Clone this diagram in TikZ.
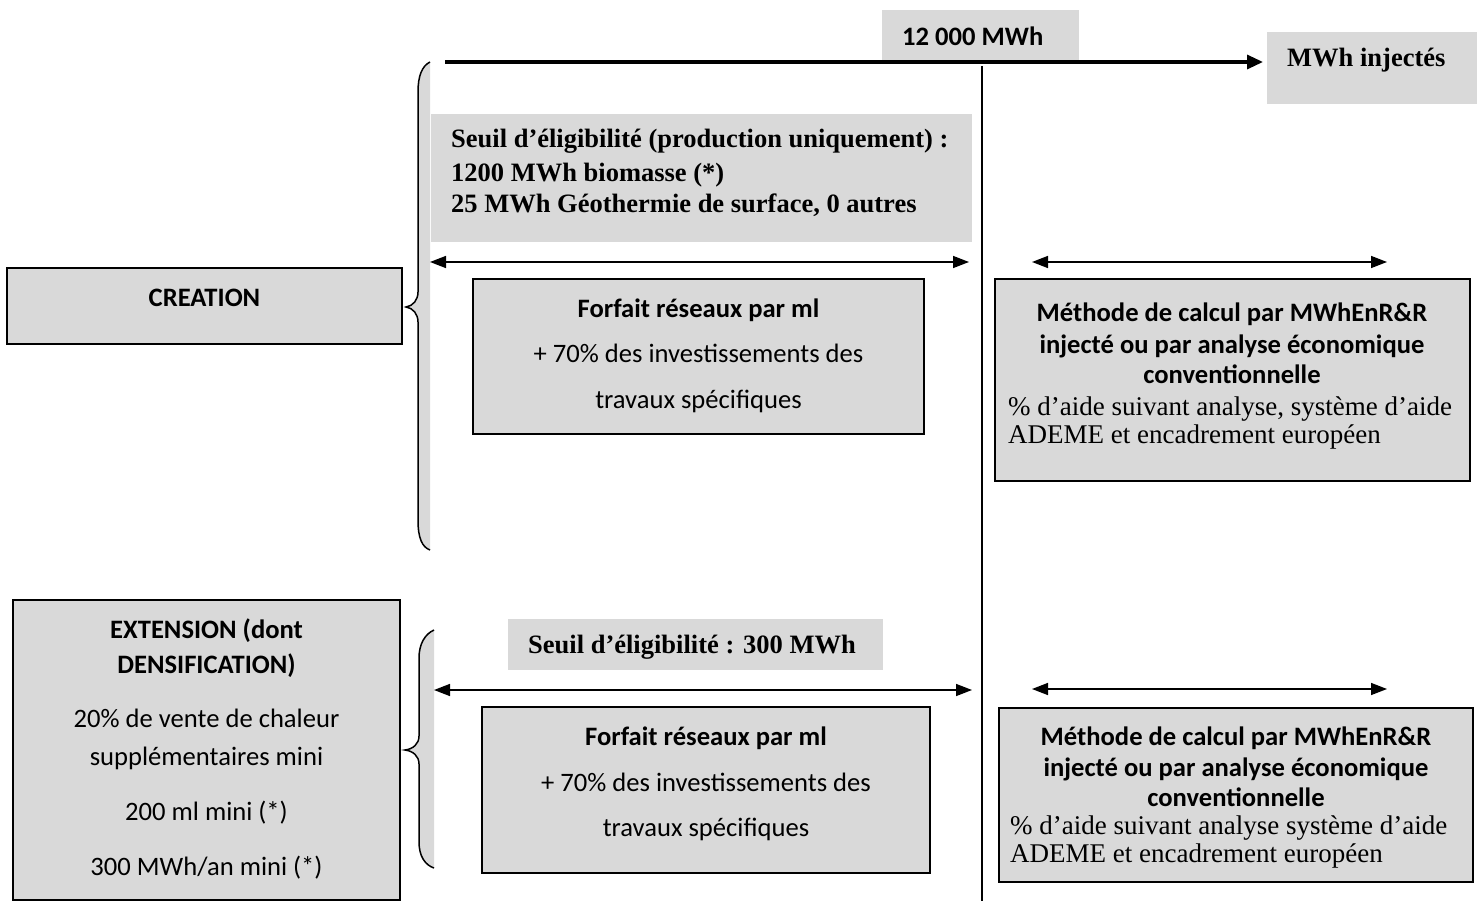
\documentclass[tikz,border=0pt]{standalone}
\usepackage{fontspec}
\setmainfont{Liberation Serif}
\newfontfamily\calfont{Carlito}
\usetikzlibrary{arrows.meta}
\definecolor{boxgray}{HTML}{D9D9D9}
\tikzset{
  gbox/.style={draw=black, line width=1.3pt, fill=boxgray, inner sep=0pt, outer sep=0pt, anchor=north west},
  pbox/.style={fill=boxgray, inner sep=0pt, outer sep=0pt, anchor=north west},
  cb/.style={font=\calfont\bfseries\fontsize{26.6}{30}\selectfont, anchor=base, inner sep=0pt},
  cr/.style={font=\calfont\fontsize{26.6}{30}\selectfont, anchor=base, inner sep=0pt},
  tb/.style={font=\bfseries\fontsize{26.5}{30}\selectfont, anchor=base west, inner sep=0pt},
  tr/.style={font=\fontsize{27}{30}\selectfont, anchor=base west, inner sep=0pt},
  darr/.style={line width=1.5pt, {Triangle[length=16pt,width=12pt]}-{Triangle[length=16pt,width=12pt]}},
  bigarr/.style={line width=3.2pt, -{Triangle[length=16pt,width=14pt]}},
  bracefill/.style={fill=boxgray, draw=none},
  bracestroke/.style={draw=black, line width=1.5pt},
  axisline/.style={draw=black, line width=1.5pt}
}
\begin{document}
\begin{tikzpicture}[x=1pt,y=-1pt]
\useasboundingbox (0,0) rectangle (1483,901);

% ---------- top axis ----------
\node[pbox, minimum width=197pt, minimum height=51pt] (b12) at (882,10) {};
\node[cb, anchor=base west] (t12) at (902,46) {12 000 MWh};
\node[pbox, minimum width=210pt, minimum height=72pt] (inj) at (1267,32) {};
\node[tb] (tinj) at (1287,67) {MWh injectés};
\coordinate (axstart) at (445,62);
\draw[bigarr, shorten >=4pt] (axstart) -- (axstart -| inj.west);

\coordinate (vtop) at (982,66);
\coordinate (vbot) at (982,901);
\draw[axisline] (vtop) -- (vbot);

% ---------- brace 1 ----------
\path[bracefill] (430,62) .. controls (422,66) and (418,76) .. (418,92) -- (418,292)
  .. controls (418,300) and (413,306) .. (406,307) .. controls (413,308) and (418,314) .. (418,322)
  -- (418,520) .. controls (418,538) and (422,547) .. (430,550) -- cycle;
\draw[bracestroke] (430,62) .. controls (422,66) and (418,76) .. (418,92) -- (418,292)
  .. controls (418,300) and (413,306) .. (406,307) .. controls (413,308) and (418,314) .. (418,322)
  -- (418,520) .. controls (418,538) and (422,547) .. (430,550);

% ---------- CREATION ----------
\node[gbox, minimum width=395pt, minimum height=76pt] (creation) at (7,268) {};
\node[cb] (tcreation) at (204.5,307) {CREATION};

\node[pbox, minimum width=541pt, minimum height=128pt] (seuil1) at (431,114) {};
\node[tb] (s1a) at (451,148) {Seuil d’éligibilité (production uniquement) :};
\node[tb] (s1b) at (451,182) {1200 MWh biomasse (*)};
\node[tb] (s1c) at (451,213) {25 MWh Géothermie de surface, 0 autres};

\coordinate (a1l) at (430,262);
\coordinate (a1r) at (969,262);
\draw[darr] (a1l) -- (a1r);
\coordinate (a2l) at (1032,262);
\coordinate (a2r) at (1387,262);
\draw[darr] (a2l) -- (a2r);

\node[gbox, minimum width=451pt, minimum height=155pt] (forf1) at (473,279) {};
\node[cb] (f1a) at (698.5,317) {Forfait réseaux par ml};
\node[cr] (f1b) at (698.5,362) {+ 70\% des investissements des};
\node[cr] (f1c) at (698.5,408) {travaux spécifiques};

\node[gbox, minimum width=475pt, minimum height=202pt] (meth1) at (995,279) {};
\node[cb] (m1a) at (1232,322) {Méthode de calcul par MWhEnR\&R};
\node[cb] (m1b) at (1232,353) {injecté ou par analyse économique};
\node[cb] (m1c) at (1232,383) {conventionnelle};
\node[tr] (m1d) at (1008,415) {\% d’aide suivant analyse, système d’aide};
\node[tr] (m1e) at (1008,443) {ADEME et encadrement européen};

% ---------- brace 2 ----------
\path[bracefill] (434,630) .. controls (425,634) and (419,644) .. (419,658) -- (419,736)
  .. controls (419,744) and (413,749) .. (405,750) .. controls (413,751) and (419,756) .. (419,764)
  -- (419,842) .. controls (419,856) and (425,865) .. (434,868) -- cycle;
\draw[bracestroke] (434,630) .. controls (425,634) and (419,644) .. (419,658) -- (419,736)
  .. controls (419,744) and (413,749) .. (405,750) .. controls (413,751) and (419,756) .. (419,764)
  -- (419,842) .. controls (419,856) and (425,865) .. (434,868);

% ---------- EXTENSION ----------
\node[gbox, minimum width=387pt, minimum height=300pt] (ext) at (13,600) {};
\node[cb] (e1) at (206.5,638) {EXTENSION (dont};
\node[cb] (e2) at (206.5,673) {DENSIFICATION)};
\node[cr] (e3) at (206.5,727) {20\% de vente de chaleur};
\node[cr] (e4) at (206.5,765) {supplémentaires mini};
\node[cr] (e5) at (206.5,820) {200 ml mini (*)};
\node[cr] (e6) at (206.5,875) {300 MWh/an mini (*)};

\node[pbox, minimum width=375pt, minimum height=51pt] (seuil2) at (508,619) {};
\node[tb] (s2) at (528,653) {Seuil d’éligibilité : 300 MWh};

\coordinate (a3l) at (434,690);
\coordinate (a3r) at (972,690);
\draw[darr] (a3l) -- (a3r);
\coordinate (a4l) at (1032,689);
\coordinate (a4r) at (1387,689);
\draw[darr] (a4l) -- (a4r);

\node[gbox, minimum width=448pt, minimum height=166pt] (forf2) at (482,707) {};
\node[cb] (f2a) at (706,745) {Forfait réseaux par ml};
\node[cr] (f2b) at (706,791) {+ 70\% des investissements des};
\node[cr] (f2c) at (706,836) {travaux spécifiques};

\node[gbox, minimum width=474pt, minimum height=174pt] (meth2) at (999,708) {};
\node[cb] (m2a) at (1236,745) {Méthode de calcul par MWhEnR\&R};
\node[cb] (m2b) at (1236,776) {injecté ou par analyse économique};
\node[cb] (m2c) at (1236,806) {conventionnelle};
\node[tr] (m2d) at (1010,834) {\% d’aide suivant analyse système d’aide};
\node[tr] (m2e) at (1010,862) {ADEME et encadrement européen};
\end{tikzpicture}
\end{document}
